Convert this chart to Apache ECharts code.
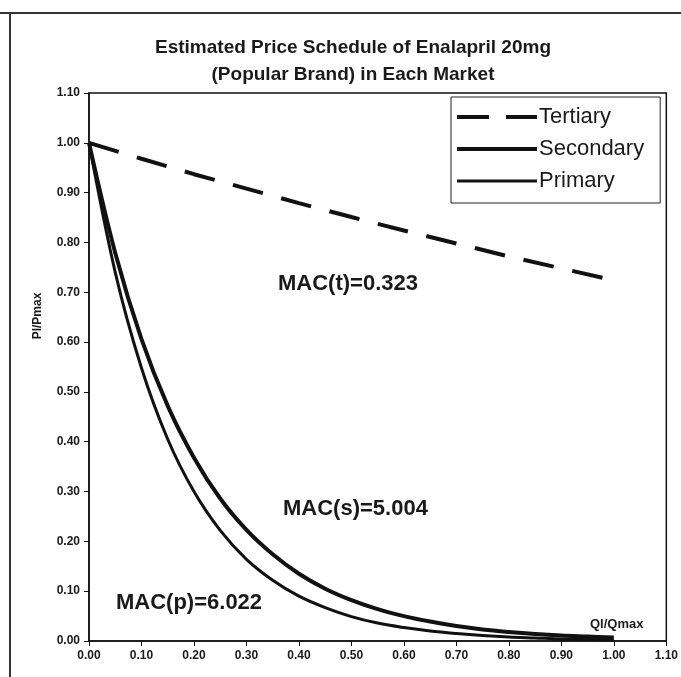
<!DOCTYPE html>
<html>
<head>
<meta charset="utf-8">
<title>Estimated Price Schedule of Enalapril 20mg</title>
<script src="https://cdn.jsdelivr.net/npm/echarts@6/dist/echarts.min.js"></script>
<style>
  html, body { margin: 0; padding: 0; background: #fff; }
  #chart { width: 681px; height: 677px; }
</style>
</head>
<body>
<div id="chart"></div>
<script>
// Relative quantity Qi/Qmax sampled along each curve
const qCurve = [0, 0.05, 0.10, 0.15, 0.20, 0.25, 0.30, 0.35, 0.40, 0.45, 0.50,
                0.55, 0.60, 0.65, 0.70, 0.75, 0.80, 0.85, 0.90, 0.95, 1.00];
const qTertiary = [0, 0.10, 0.20, 0.30, 0.40, 0.50, 0.60, 0.70, 0.80, 0.90, 1.00];

// Relative price Pi/Pmax in each market
const tertiary = [1.000, 0.968, 0.937, 0.908, 0.879, 0.851, 0.824, 0.798, 0.772, 0.748, 0.724];
const secondary = [1.000, 0.779, 0.606, 0.472, 0.368, 0.286, 0.223, 0.174, 0.135, 0.105, 0.082,
                   0.064, 0.050, 0.039, 0.030, 0.023, 0.018, 0.014, 0.011, 0.009, 0.007];
const primary = [1.000, 0.740, 0.548, 0.405, 0.300, 0.222, 0.164, 0.122, 0.090, 0.067, 0.049,
                 0.036, 0.027, 0.020, 0.015, 0.011, 0.008, 0.006, 0.004, 0.003, 0.002];

const seriesNames = ['Tertiary', 'Secondary', 'Primary'];
const macLabels = ['MAC(t)=0.323', 'MAC(s)=5.004', 'MAC(p)=6.022'];
const axisMin = 0, axisMax = 1.1, axisStep = 0.1;

const pairs = (xs, ys) => xs.map((x, i) => [x, ys[i]]);
const ink = '#111';
const font = '"Liberation Sans", Arial, sans-serif';

// Legend keys: filled bars inside an 80x14 box (the two empty sub-paths pin the box height)
const keyBox = 'M0,0L0,0.01Z M0,14L0,13.99Z ';
const dashedKey = 'path://' + keyBox + 'M0,5L32,5L32,9L0,9Z M49,5L80,5L80,9L49,9Z';
const thickKey = 'path://' + keyBox + 'M0,5L80,5L80,9L0,9Z';
const thinKey = 'path://' + keyBox + 'M0,5.5L80,5.5L80,8.5L0,8.5Z';

const chart = echarts.init(document.getElementById('chart'), null, { renderer: 'canvas' });

chart.setOption({
  backgroundColor: '#fff',
  animation: false,
  title: {
    text: 'Estimated Price Schedule of Enalapril 20mg\n(Popular Brand) in Each Market',
    left: 348, top: 29, textAlign: 'center',
    textStyle: { fontFamily: font, fontSize: 19, fontWeight: 'bold', color: '#1a1a1a', lineHeight: 27 }
  },
  grid: {
    left: 89, right: 12, top: 93, bottom: 36,
    show: true, borderColor: ink, borderWidth: 1.5, backgroundColor: '#fff'
  },
  legend: {
    orient: 'vertical', left: 451, top: 97,
    padding: [9, 16, 11, 6],
    itemWidth: 80, itemHeight: 14, itemGap: 10,
    borderColor: '#222', borderWidth: 1, backgroundColor: '#fff',
    data: [
      { name: seriesNames[0], icon: dashedKey },
      { name: seriesNames[1], icon: thickKey },
      { name: seriesNames[2], icon: thinKey }
    ],
    itemStyle: { color: ink, borderWidth: 0 },
    textStyle: { fontFamily: font, fontSize: 22, color: '#1a1a1a', lineHeight: 22, padding: [0, 0, 0, -3] }
  },
  xAxis: {
    type: 'value', min: axisMin, max: axisMax, interval: axisStep,
    axisLine: { show: true, lineStyle: { color: ink, width: 1.5 } },
    axisTick: { show: true, inside: false, length: 5, lineStyle: { color: ink, width: 1 } },
    axisLabel: { formatter: v => v.toFixed(2), fontFamily: font, fontSize: 12, fontWeight: 'bold', color: '#1a1a1a', margin: 9 },
    splitLine: { show: false }
  },
  yAxis: {
    type: 'value', min: axisMin, max: axisMax, interval: axisStep,
    axisLine: { show: true, lineStyle: { color: ink, width: 1.5 } },
    axisTick: { show: true, inside: false, length: 5, lineStyle: { color: ink, width: 1 } },
    axisLabel: { formatter: v => v.toFixed(2), fontFamily: font, fontSize: 12, fontWeight: 'bold', color: '#1a1a1a', margin: 9 },
    splitLine: { show: false }
  },
  series: [
    {
      name: seriesNames[0], type: 'line', showSymbol: false, symbol: 'none',
      data: pairs(qTertiary, tertiary),
      lineStyle: { color: ink, width: 4, type: [31, 19], cap: 'butt' },
      itemStyle: { color: ink }
    },
    {
      name: seriesNames[1], type: 'line', showSymbol: false, symbol: 'none', smooth: 0.35,
      data: pairs(qCurve, secondary),
      lineStyle: { color: ink, width: 4 },
      itemStyle: { color: ink }
    },
    {
      name: seriesNames[2], type: 'line', showSymbol: false, symbol: 'none', smooth: 0.35,
      data: pairs(qCurve, primary),
      lineStyle: { color: ink, width: 3 },
      itemStyle: { color: ink }
    }
  ],
  graphic: [
    // page frame
    { type: 'line', shape: { x1: 0, y1: 13, x2: 681, y2: 13 }, style: { stroke: '#333', lineWidth: 2 } },
    { type: 'line', shape: { x1: 10, y1: 13, x2: 10, y2: 677 }, style: { stroke: '#333', lineWidth: 2 } },
    // vertical axis title
    { type: 'text', x: 38, y: 316, rotation: Math.PI / 2,
      style: { text: 'Pl/Pmax', font: 'bold 12px ' + font, fill: '#1a1a1a', align: 'center', verticalAlign: 'middle' } },
    // curve annotations
    { type: 'text', left: 278, top: 273, style: { text: macLabels[0], font: 'bold 22px ' + font, fill: '#1a1a1a' } },
    { type: 'text', left: 283, top: 498, style: { text: macLabels[1], font: 'bold 22px ' + font, fill: '#1a1a1a' } },
    { type: 'text', left: 116, top: 592, style: { text: macLabels[2], font: 'bold 22px ' + font, fill: '#1a1a1a' } },
    // horizontal axis title
    { type: 'text', left: 590, top: 618, style: { text: 'Ql/Qmax', font: 'bold 13px ' + font, fill: '#1a1a1a' } }
  ]
});
</script>
</body>
</html>
